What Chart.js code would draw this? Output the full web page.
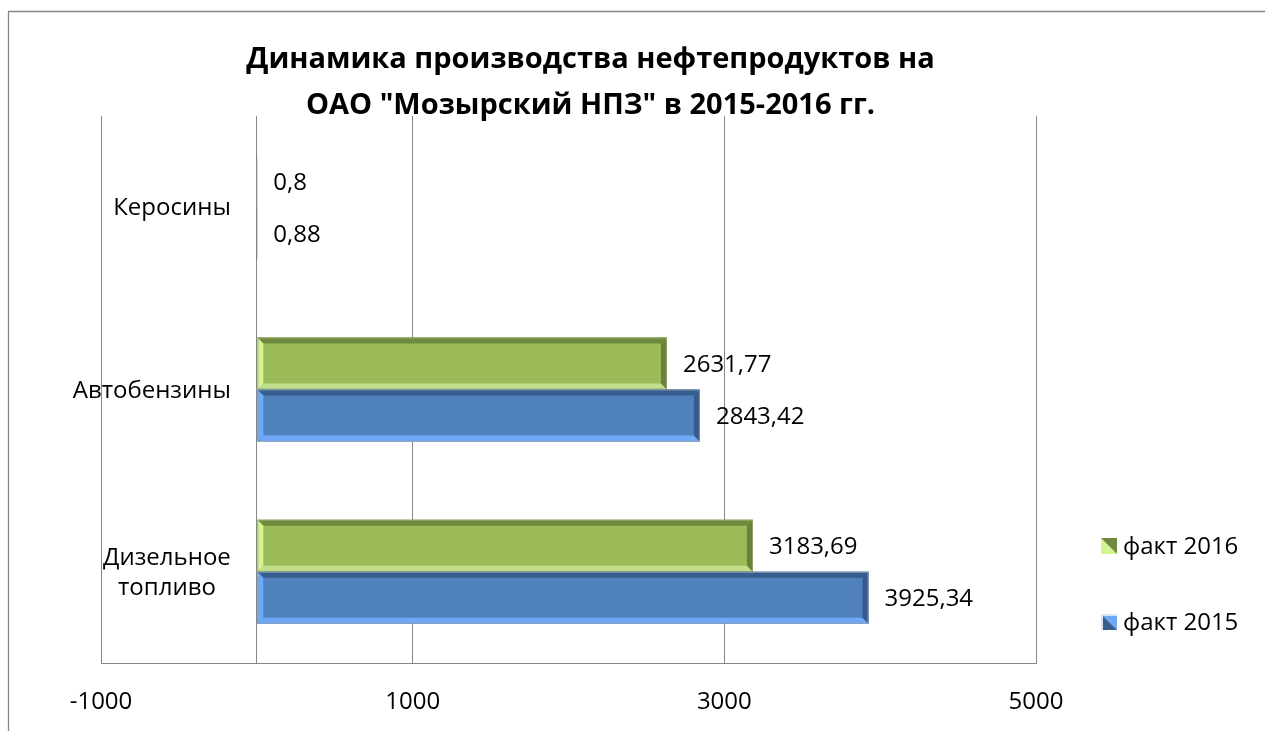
<!DOCTYPE html>
<html>
<head>
<meta charset="utf-8">
<script src="https://cdn.jsdelivr.net/npm/chart.js@4/dist/chart.umd.min.js"></script>
<style>
html,body{margin:0;padding:0;background:#fff;}
#wrap{position:relative;width:1265px;height:731px;}
</style>
</head>
<body>
<div id="wrap"><canvas id="c" width="1265" height="731"></canvas></div>
<script>
// ---- data ----
const titleLines = ['Динамика производства нефтепродуктов на', 'ОАО "Мозырский НПЗ" в 2015-2016 гг.'];
const categories = [['Керосины'], ['Автобензины'], ['Дизельное', 'топливо']];
const seriesNames = ['факт 2016', 'факт 2015'];
const fact2016 = [0.8, 2631.77, 3183.69];
const fact2015 = [0.88, 2843.42, 3925.34];
const xTickLabels = ['-1000', '1000', '3000', '5000'];
const xGridValues = [-1000, 0, 1000, 3000, 5000];

// ---- styles ----
const FONT = "'Open Sans', 'Noto Sans', 'DejaVu Sans', sans-serif";
const GRID = '#868686';
const palettes = [
  {fill: '#9BBB59', top: '#6F8A3C', right: '#68823A', bottom: '#C2E08C', left: '#D2F592', stroke: 'rgba(150,170,120,0.8)'},
  {fill: '#4F81BD', top: '#385E8D', right: '#375C8A', bottom: '#6EA8F6', left: '#6DAAFA', stroke: 'rgba(140,160,185,0.8)'}
];

function fmt(v) { return String(v).replace('.', ','); }

function poly(ctx, pts, color) {
  ctx.beginPath();
  ctx.moveTo(pts[0][0], pts[0][1]);
  for (let i = 1; i < pts.length; i++) ctx.lineTo(pts[i][0], pts[i][1]);
  ctx.closePath();
  ctx.fillStyle = color;
  ctx.fill();
}

const customPlugin = {
  id: 'custom',
  beforeDraw(chart) {
    const ctx = chart.ctx;
    ctx.save();
    ctx.fillStyle = '#fff';
    ctx.fillRect(0, 0, chart.width, chart.height);
    ctx.strokeStyle = GRID;
    ctx.lineWidth = 1.3;
    ctx.beginPath();
    ctx.moveTo(8.5, chart.height);
    ctx.lineTo(8.5, 11.5);
    ctx.lineTo(chart.width, 11.5);
    ctx.stroke();
    ctx.restore();
  },
  afterDatasetsDraw(chart) {
    const ctx = chart.ctx;
    const b = 6;
    ctx.save();
    chart.data.datasets.forEach((ds, di) => {
      const meta = chart.getDatasetMeta(di);
      const p = palettes[di];
      meta.data.forEach((bar, i) => {
        const L = Math.min(bar.base, bar.x), R = Math.max(bar.base, bar.x);
        const T = bar.y - bar.height / 2, B = bar.y + bar.height / 2;
        if (R - L > 2 * b + 1) {
          poly(ctx, [[L, T], [R, T], [R - b, T + b], [L + b, T + b]], p.top);
          poly(ctx, [[L, B], [R, B], [R - b, B - b], [L + b, B - b]], p.bottom);
          poly(ctx, [[L, T], [L + b, T + b], [L + b, B - b], [L, B]], p.left);
          poly(ctx, [[R, T], [R, B], [R - b, B - b], [R - b, T + b]], p.right);
          ctx.strokeStyle = p.stroke;
          ctx.lineWidth = 1;
          ctx.strokeRect(L + 0.5, T + 0.5, R - L - 1, B - T - 1);
        }
        // value label
        ctx.fillStyle = '#000';
        ctx.font = '24px ' + FONT;
        ctx.textAlign = 'left';
        ctx.textBaseline = 'alphabetic';
        ctx.fillText(fmt(ds.data[i]), R + 16, bar.y + 8.5);
      });
    });
    ctx.restore();
  },
  afterDraw(chart) {
    const ctx = chart.ctx;
    const xs = chart.scales.x, ys = chart.scales.y;
    const area = chart.chartArea;
    ctx.save();
    // title
    ctx.fillStyle = '#000';
    ctx.font = 'bold 29px ' + FONT;
    ctx.textAlign = 'center';
    ctx.textBaseline = 'alphabetic';
    const tcx = (area.left + area.right) / 2 + 22;
    ctx.fillText(titleLines[0], tcx, 68);
    ctx.fillText(titleLines[1], tcx, 114);
    // category labels
    ctx.font = '24px ' + FONT;
    const rightEdge = xs.getPixelForValue(0) - 26;
    chart.data.labels.forEach((lab, i) => {
      const lines = Array.isArray(lab) ? lab : [lab];
      const y = ys.getPixelForValue(i);
      let w = 0;
      lines.forEach(l => { w = Math.max(w, ctx.measureText(l).width); });
      const cx = rightEdge - w / 2;
      const lh = 30;
      lines.forEach((l, j) => {
        ctx.textAlign = 'center';
        ctx.fillText(l, cx, y + 8 + (j - (lines.length - 1) / 2) * lh);
      });
    });
    // legend
    const lx = area.right + 65;
    const lys = [area.bottom - 125, area.bottom - 49];
    chart.data.datasets.forEach((ds, di) => {
      const p = palettes[di];
      const y0 = lys[di];
      const s = 16;
      if (di === 0) {
        poly(ctx, [[lx, y0], [lx, y0 + s], [lx + s, y0 + s]], p.left);
        poly(ctx, [[lx, y0], [lx + s, y0], [lx + s, y0 + s]], p.top);
      } else {
        poly(ctx, [[lx, y0], [lx + s, y0], [lx + s, y0 + s], [lx, y0 + s]], '#D6E4F7');
        poly(ctx, [[lx + 2, y0 + 2], [lx + s, y0 + 2], [lx + s, y0 + s]], p.bottom);
        poly(ctx, [[lx + 2, y0 + 2], [lx + s, y0 + s], [lx + 2, y0 + s]], p.top);
      }
      ctx.fillStyle = '#000';
      ctx.textAlign = 'left';
      ctx.fillText(ds.label, lx + 22, y0 + 16);
    });
    ctx.restore();
  }
};

new Chart(document.getElementById('c'), {
  type: 'bar',
  data: {
    labels: categories,
    datasets: [
      {label: seriesNames[0], data: fact2016, backgroundColor: palettes[0].fill, borderWidth: 0},
      {label: seriesNames[1], data: fact2015, backgroundColor: palettes[1].fill, borderWidth: 0}
    ]
  },
  options: {
    responsive: false,
    animation: false,
    indexAxis: 'y',
    layout: {padding: {left: 101, right: 229, top: 116, bottom: 0}},
    datasets: {bar: {categoryPercentage: 0.57, barPercentage: 1}},
    plugins: {legend: {display: false}, title: {display: false}, tooltip: {enabled: false}},
    scales: {
      x: {
        min: -1000, max: 5000,
        ticks: {
          stepSize: 1000, autoSkip: false, maxRotation: 0, padding: 25,
          color: '#000', font: {family: FONT, size: 24},
          callback: v => xTickLabels.includes(String(v)) ? String(v) : ''
        },
        grid: {
          drawTicks: false, lineWidth: 1,
          color: c => (c.tick && xGridValues.includes(c.tick.value)) ? GRID : 'rgba(0,0,0,0)'
        },
        border: {display: true, color: GRID, width: 1},
        afterFit: s => { s.height = 68; }
      },
      y: {display: false}
    }
  },
  plugins: [customPlugin]
});
</script>
</body>
</html>
